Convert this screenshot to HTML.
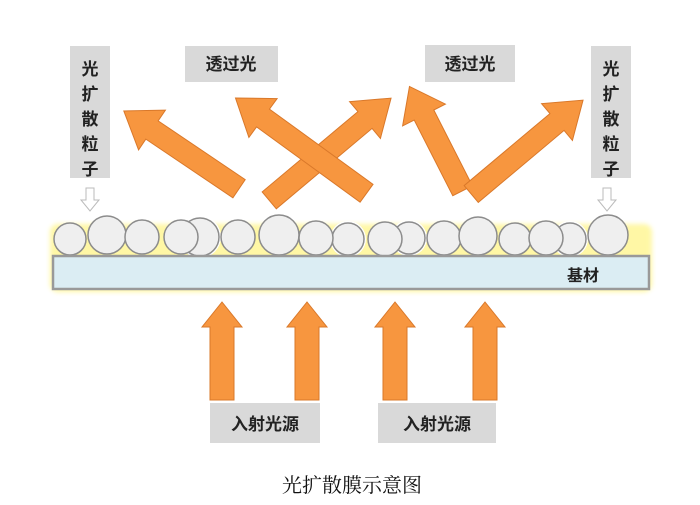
<!DOCTYPE html>
<html><head><meta charset="utf-8"><style>
html,body{margin:0;padding:0;background:#fff;}
svg{display:block;}
text{font-family:"Liberation Sans","Noto Sans CJK SC",sans-serif;}
</style></head><body>
<svg width="700" height="505" viewBox="0 0 700 505" xmlns="http://www.w3.org/2000/svg">
<defs>
<filter id="glow" x="-10%" y="-30%" width="120%" height="160%"><feGaussianBlur stdDeviation="2.5"/></filter>
</defs>
<rect x="70" y="46" width="40" height="132" fill="#d9d9d9"/>
<text x="90" y="75" font-size="17" text-anchor="middle" font-weight="bold" fill="#222">光</text>
<text x="90" y="100" font-size="17" text-anchor="middle" font-weight="bold" fill="#222">扩</text>
<text x="90" y="125" font-size="17" text-anchor="middle" font-weight="bold" fill="#222">散</text>
<text x="90" y="150" font-size="17" text-anchor="middle" font-weight="bold" fill="#222">粒</text>
<text x="90" y="175" font-size="17" text-anchor="middle" font-weight="bold" fill="#222">子</text>
<rect x="591" y="46" width="40" height="132" fill="#d9d9d9"/>
<text x="611" y="75" font-size="17" text-anchor="middle" font-weight="bold" fill="#222">光</text>
<text x="611" y="100" font-size="17" text-anchor="middle" font-weight="bold" fill="#222">扩</text>
<text x="611" y="125" font-size="17" text-anchor="middle" font-weight="bold" fill="#222">散</text>
<text x="611" y="150" font-size="17" text-anchor="middle" font-weight="bold" fill="#222">粒</text>
<text x="611" y="175" font-size="17" text-anchor="middle" font-weight="bold" fill="#222">子</text>
<rect x="185" y="46" width="93" height="36" fill="#d9d9d9"/>
<text x="231" y="70" font-size="17" text-anchor="middle" font-weight="bold" fill="#222">透过光</text>
<rect x="425" y="45" width="90" height="37" fill="#d9d9d9"/>
<text x="470" y="70" font-size="17" text-anchor="middle" font-weight="bold" fill="#222">透过光</text>
<polygon points="86,188 94,188 94,200 99,200 90,211 81,200 86,200" fill="#fff" stroke="#bbb"/>
<polygon points="603,188 611,188 611,200 616,200 607,211 598,200 603,200" fill="#fff" stroke="#bbb"/>
<g transform="translate(152,130) rotate(-146)"><polygon points="0,-11 -105,-11 -105,11 0,11 0,24 34,0 0,-24" fill="#f7963f" stroke="#d9782a"/></g>
<g transform="translate(365,120) rotate(-40)"><polygon points="0,-11 -125,-11 -125,11 0,11 0,24 34,0 0,-24" fill="#f7963f" stroke="#d9782a"/></g>
<g transform="translate(263,118) rotate(-144)"><polygon points="0,-11 -128,-11 -128,11 0,11 0,24 34,0 0,-24" fill="#f7963f" stroke="#d9782a"/></g>
<g transform="translate(424,115) rotate(-117)"><polygon points="0,-11 -85,-11 -85,11 0,11 0,24 32,0 0,-24" fill="#f7963f" stroke="#d9782a"/></g>
<g transform="translate(557,122) rotate(-40)"><polygon points="0,-11 -112,-11 -112,11 0,11 0,24 34,0 0,-24" fill="#f7963f" stroke="#d9782a"/></g>
<rect x="50" y="224" width="602" height="68" rx="8" fill="#fff36a" filter="url(#glow)" opacity="0.6"/>
<g fill="#fff" stroke="none">
<circle cx="200" cy="237" r="21"/><circle cx="409" cy="238" r="18"/><circle cx="570" cy="239" r="18"/><circle cx="348" cy="239" r="18"/>
</g>
<g fill="#efefef" stroke="#8c8c8c" stroke-width="1.5">
<circle cx="200" cy="237" r="19"/>
<circle cx="409" cy="238" r="16"/>
<circle cx="570" cy="239" r="16"/>
<circle cx="348" cy="239" r="16"/>
<circle cx="70" cy="239" r="16"/>
<circle cx="107" cy="235" r="19"/>
<circle cx="142" cy="237" r="17"/>
<circle cx="181" cy="237" r="17"/>
<circle cx="238" cy="237" r="17"/>
<circle cx="279" cy="235" r="20"/>
<circle cx="316" cy="238" r="17"/>
<circle cx="385" cy="239" r="17"/>
<circle cx="444" cy="238" r="17"/>
<circle cx="478" cy="236" r="19"/>
<circle cx="515" cy="239" r="16"/>
<circle cx="546" cy="238" r="17"/>
<circle cx="608" cy="235" r="20"/>
</g>
<rect x="53" y="256" width="596" height="33" fill="#dbedf3" stroke="#999" stroke-width="2.5"/>
<text x="583" y="281" font-size="16" font-weight="bold" text-anchor="middle" fill="#222">基材</text>
<g fill="#f7963f" stroke="#d9782a">
<polygon points="210,400 234,400 234,327 242,327 222,302 202,327 210,327"/>
<polygon points="295,400 319,400 319,327 327,327 307,302 287,327 295,327"/>
<polygon points="383,400 407,400 407,327 415,327 395,302 375,327 383,327"/>
<polygon points="473,400 497,400 497,327 505,327 485,302 465,327 473,327"/>
</g>
<rect x="210" y="403" width="110" height="40" fill="#d9d9d9"/>
<text x="265" y="430" font-size="17" font-weight="bold" text-anchor="middle" fill="#222">入射光源</text>
<rect x="378" y="403" width="118" height="40" fill="#d9d9d9"/>
<text x="437" y="430" font-size="17" font-weight="bold" text-anchor="middle" fill="#222">入射光源</text>
<text x="352" y="492" font-size="20" text-anchor="middle" fill="#111" style="font-family:'Noto Serif CJK SC',serif">光扩散膜示意图</text>
</svg>
</body></html>
